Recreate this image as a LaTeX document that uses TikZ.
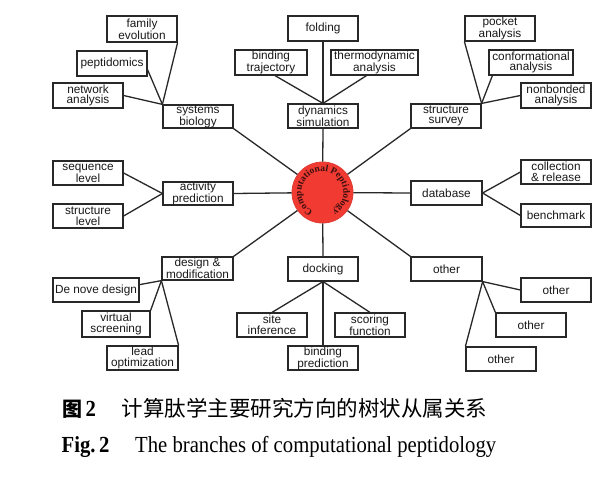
\documentclass[tikz,border=0pt]{standalone}
\usepackage{graphicx}
\usepackage{fontspec}
\setmainfont{Liberation Serif}
\setsansfont{Liberation Sans}
\newfontfamily\cjkfont{Noto Sans CJK SC}
\newfontfamily\boxfont{Liberation Sans}
\newfontfamily\circfont{Liberation Serif}
\usetikzlibrary{decorations.text}
\definecolor{linecol}{RGB}{40,40,40}
\definecolor{boxtext}{RGB}{25,25,25}
\definecolor{ballred}{RGB}{240,58,50}
\definecolor{ballrim}{RGB}{222,60,52}
\definecolor{balltext}{RGB}{60,15,15}
\begin{document}
\begin{tikzpicture}[x=1pt,y=-1pt,
  box/.style={draw=linecol, line width=1.2pt, fill=white, minimum width=70pt, minimum height=24pt,
    inner sep=0pt, align=center, text=boxtext, font=\boxfont\fontsize{11.8}{10.6}\selectfont},
  link/.style={draw=linecol, line width=1.3pt},
  captext/.style={anchor=base west, inner sep=0pt}]
\useasboundingbox (0,0) rectangle (616,477);
\fill[white] (0,0) rectangle (616,477);

% centre
\node[circle, fill=ballred, draw=ballrim, line width=0.8pt, minimum size=61pt, inner sep=0pt] (c) at (322.5,192.5) {};

% systems biology branch
\node[box, minimum height=26pt] (famevo) at (142,29) {family\\evolution};
\node[box, minimum height=25pt] (peptid) at (112,63.5) {peptidomics};
\node[box, minimum height=25pt] (netan) at (88,95.5) {network\\analysis};
\node[box, minimum height=23pt] (sysbio) at (198,116.5) {systems\\biology};

% dynamics simulation branch
\node[box, minimum height=25pt] (folding) at (323,28.5) {folding};
\node[box, minimum width=72pt, minimum height=25pt] (bindtraj) at (271,62.5) {binding\\trajectory};
\node[box, minimum width=87pt, minimum height=25pt] (thermo) at (374.5,62.5) {thermodynamic\\analysis};
\node[box] (dynsim) at (323,116) {dynamics\\simulation};

% structure survey branch
\node[box, minimum height=25pt] (pocket) at (500,28.5) {pocket\\analysis};
\node[box, minimum width=84pt, minimum height=25pt] (conf) at (531,62.5) {conformational\\analysis};
\node[box, minimum height=25pt] (nonb) at (556,95.5) {nonbonded\\analysis};
\node[box] (strsur) at (446,116) {structure\\survey};

% activity prediction branch
\node[box] (seqlev) at (88,173) {sequence\\level};
\node[box] (strlev) at (88,216) {structure\\level};
\node[box, minimum height=23pt] (actpred) at (198,193.5) {activity\\prediction};

% database branch
\node[box, minimum width=71pt] (database) at (446.5,193) {database};
\node[box] (collect) at (556,172) {collection\\\&\ release};
\node[box, minimum height=23pt] (bench) at (556,215.5) {benchmark};

% design branch
\node[box, minimum width=71pt, minimum height=23pt] (design) at (197.5,268.5) {design \&\\modification};
\node[box, minimum width=86pt] (denove) at (96,290) {De nove design};
\node[box, minimum width=68pt, minimum height=26pt] (virtual) at (116,324) {virtual\\screening};
\node[box, minimum width=71pt] (lead) at (142.5,358) {lead\\optimization};

% docking branch
\node[box] (docking) at (323,269) {docking};
\node[box] (site) at (272,325) {site\\inference};
\node[box] (scoring) at (370,325) {scoring\\function};
\node[box] (bindpred) at (323,358) {binding\\prediction};

% other branch
\node[box, minimum width=71pt] (other) at (446.5,269) {other};
\node[box] (other1) at (556,290) {other};
\node[box] (other2) at (531,325) {other};
\node[box] (other3) at (501,359) {other};

% connectors to centre
\draw[link] (sysbio.south east) -- (c);
\draw[link] (dynsim.south) -- (c);
\draw[link] (strsur.south west) -- (c);
\draw[link] (actpred.east) -- (c);
\draw[link] (database.west) -- (c);
\draw[link] (design.north east) -- (c);
\draw[link] (docking.north) -- (c);
\draw[link] (other.north west) -- (c);

% sub connectors
\draw[link] (famevo.south east) -- (sysbio.north west);
\draw[link] (peptid.-10) -- (sysbio.north west);
\draw[link] (netan.east) -- (sysbio.north west);

\draw[link] (folding.south) -- (dynsim.north);
\draw[link] ([xshift=4pt]bindtraj.south) -- (dynsim.north);
\draw[link] ([xshift=-8pt]thermo.south) -- (dynsim.north);

\draw[link] (pocket.south west) -- (strsur.north east);
\draw[link] ([xshift=4pt]conf.south west) -- (strsur.north east);
\draw[link] (nonb.west) -- (strsur.north east);

\draw[link] (seqlev.east) -- (actpred.west);
\draw[link] (strlev.east) -- (actpred.west);

\draw[link] (database.east) -- (collect.west);
\draw[link] (database.east) -- (bench.west);

\draw[link] (denove.7) -- (design.south west);
\draw[link] (virtual.north east) -- (design.south west);
\draw[link] (lead.north east) -- (design.south west);

\draw[link] (docking.south) -- (site.north);
\draw[link] (docking.south) -- (scoring.north);
\draw[link] (docking.south) -- (bindpred.north);

\draw[link] (other.south east) -- (other1.west);
\draw[link] (other.south east) -- (other2.north west);
\draw[link] (other.south east) -- (other3.north west);

% curved text on the ball
\begin{scope}[y=1pt]
\path[decorate, decoration={text along path,
    text={|\circfont\bfseries\fontsize{9.5}{9.5}\selectfont|Computational Peptidology},
    text color=balltext, text align={fit to path}}]
  ([shift={(243:21pt)}]c.center) arc[start angle=243, end angle=-58, radius=21pt];
\end{scope}

% caption
\node[captext, font=\cjkfont\bfseries\fontsize{20}{20}\selectfont] (fig1) at (62.5,416.5) {图};
\node[captext, font=\rmfamily\bfseries\fontsize{23}{23}\selectfont] (fig1n) at (85.5,416.5) {\scalebox{0.9}[1]{2}};
\node[captext, font=\cjkfont\fontsize{21.5}{21.5}\selectfont] (cap1) at (121.5,416.5) {计算肽学主要研究方向的树状从属关系};
\node[captext, font=\rmfamily\bfseries\fontsize{23}{23}\selectfont] (fig2) at (61.5,452.5) {\scalebox{0.9}[1]{Fig.\,2}};
\node[captext, font=\rmfamily\fontsize{23}{23}\selectfont] (cap2) at (135,452.5) {\scalebox{0.9}[1]{The branches of computational peptidology}};
\end{tikzpicture}
\end{document}
